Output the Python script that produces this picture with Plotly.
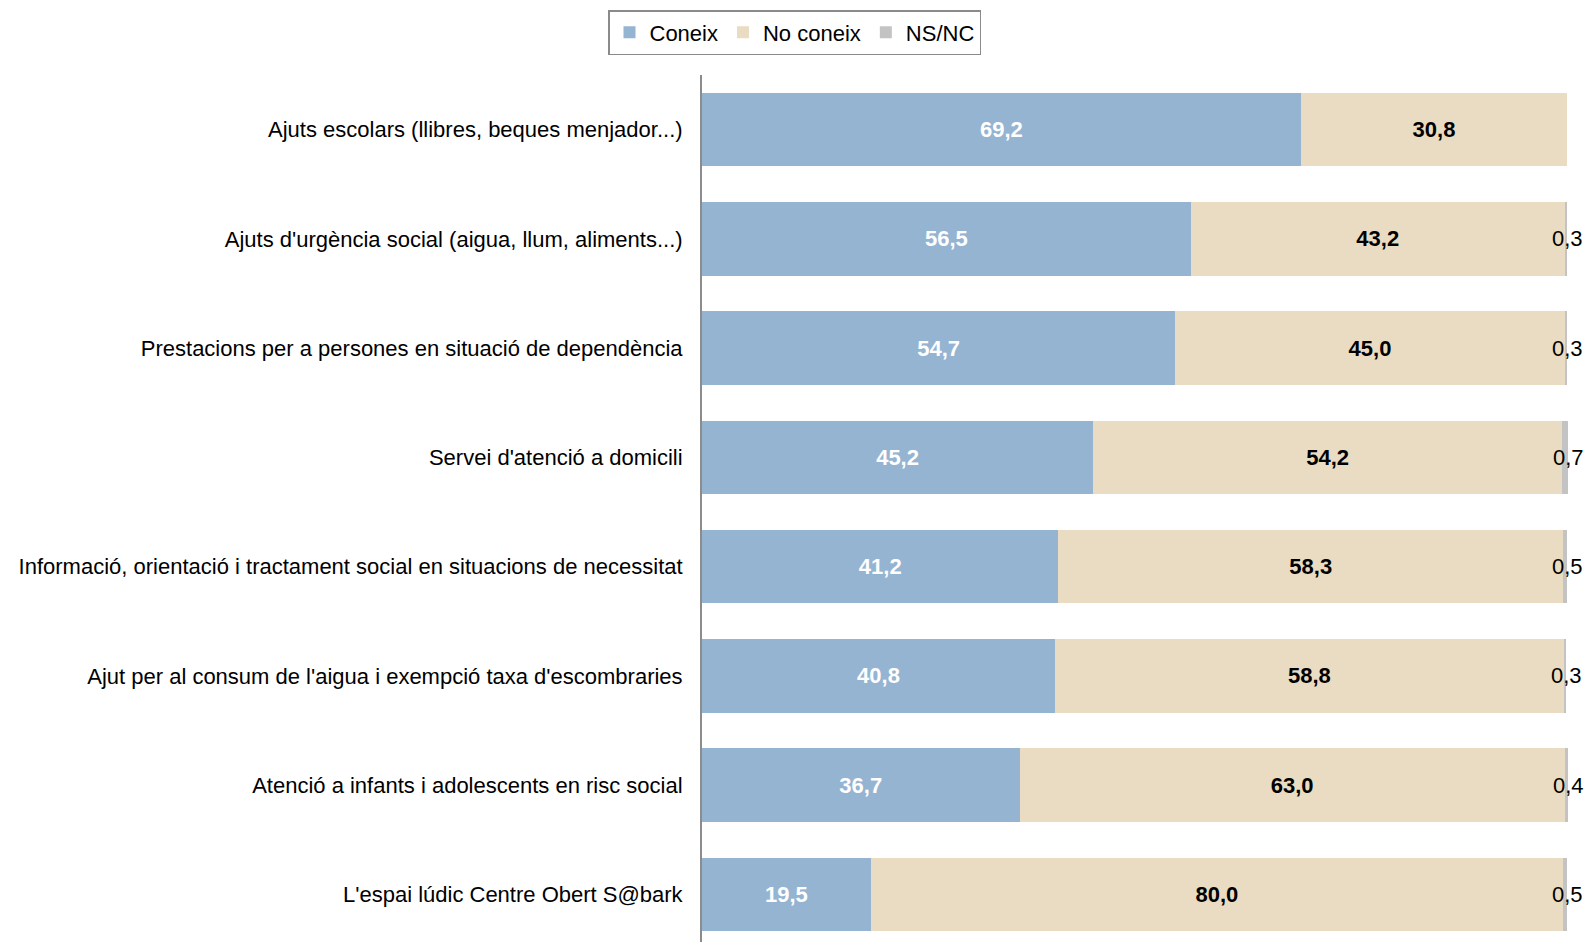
import plotly.graph_objects as go

categories = [
    "Ajuts escolars (llibres, beques menjador...)",
    "Ajuts d'urgència social (aigua, llum, aliments...)",
    "Prestacions per a persones en situació de dependència",
    "Servei d'atenció a domicili",
    "Informació, orientació i tractament social en situacions de necessitat",
    "Ajut per al consum de l'aigua i exempció taxa d'escombraries",
    "Atenció a infants i adolescents en risc social",
    "L'espai lúdic Centre Obert S@bark",
]
coneix = [69.2, 56.5, 54.7, 45.2, 41.2, 40.8, 36.7, 19.5]
no_coneix = [30.8, 43.2, 45.0, 54.2, 58.3, 58.8, 63.0, 80.0]
nsnc = [0.0, 0.3, 0.3, 0.7, 0.5, 0.3, 0.4, 0.5]

FONT = "Liberation Sans, Arial, sans-serif"
FS = 22

fig = go.Figure()
fig.add_trace(go.Bar(
    y=categories, x=coneix, name="Coneix", orientation="h",
    marker=dict(color="#95B4D2", line=dict(width=0)),
    texttemplate="%{x:.1f}", textposition="inside", insidetextanchor="middle",
    textfont=dict(color="white", size=FS, family=FONT, weight="bold"),
))
fig.add_trace(go.Bar(
    y=categories, x=no_coneix, name="No coneix", orientation="h",
    marker=dict(color="#E9DCC2", line=dict(width=0)),
    texttemplate="%{x:.1f}", textposition="inside", insidetextanchor="middle",
    textfont=dict(color="black", size=FS, family=FONT, weight="bold"),
))
fig.add_trace(go.Bar(
    y=categories, x=nsnc, name="NS/NC", orientation="h",
    marker=dict(color="#C3C3C3", line=dict(width=0)),
    hoverinfo="x",
))

for cat, a, b, c in zip(categories, coneix, no_coneix, nsnc):
    if c > 0:
        fig.add_annotation(
            x=min(a + b + c, 100.1), y=cat, text=f"{c:.1f}".replace(".", ","),
            showarrow=False, xanchor="center", yanchor="middle",
            font=dict(size=FS, color="black", family=FONT),
        )

fig.update_layout(
    barmode="stack",
    bargap=0.327,
    separators=",.",
    width=1589, height=942,
    margin=dict(l=702, r=20, t=75, b=0, pad=0),
    plot_bgcolor="white", paper_bgcolor="white",
    font=dict(family=FONT, size=FS, color="black"),
    legend=dict(
        orientation="h", xref="container", yref="container",
        x=0.5, xanchor="center", y=1 - 10 / 942, yanchor="top",
        bordercolor="#8A8A8A", borderwidth=1.5,
        font=dict(size=FS, family=FONT),
        traceorder="normal",
    ),
    showlegend=True,
)
fig.update_xaxes(range=[0, 100.2], visible=False, fixedrange=True)
fig.update_yaxes(
    range=[7.436, -0.5], showline=True, linecolor="#8C8C8C", linewidth=2,
    ticks="", showgrid=False, ticklabelstandoff=13,
    tickfont=dict(size=FS, family=FONT, color="black"),
)

fig.write_html(
    "out.html",
    config={"displayModeBar": False},
    post_script="document.body.style.margin='0';document.body.style.overflow='hidden';",
)
